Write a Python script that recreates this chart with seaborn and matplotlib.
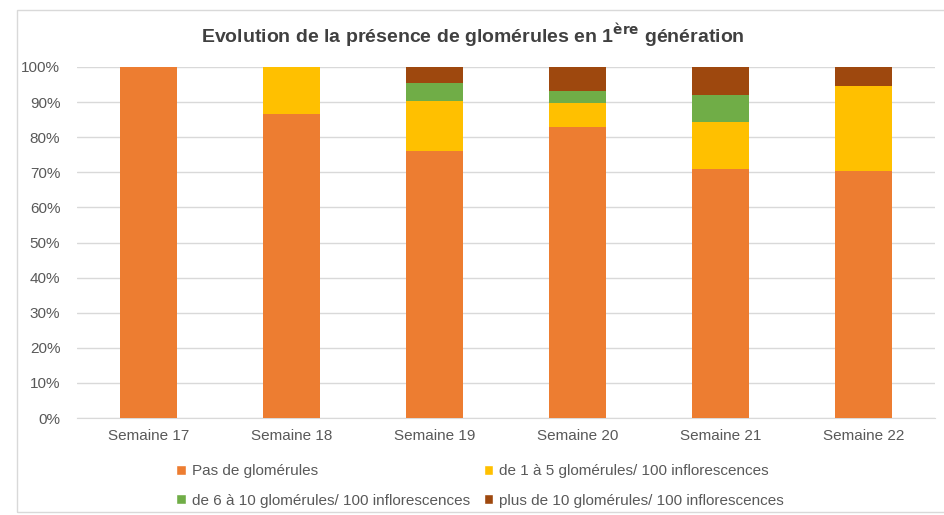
import numpy as np
import pandas as pd
import matplotlib.pyplot as plt
import seaborn as sns
from matplotlib.patches import Patch, Rectangle

weeks = ['Semaine 17', 'Semaine 18', 'Semaine 19', 'Semaine 20', 'Semaine 21', 'Semaine 22']
pas_de = [1.000, 0.866, 0.762, 0.829, 0.709, 0.703]
de_1_5 = [0.000, 0.134, 0.142, 0.068, 0.134, 0.243]
de_6_10 = [0.000, 0.000, 0.049, 0.035, 0.077, 0.000]
plus_10 = [0.000, 0.000, 0.047, 0.068, 0.080, 0.054]

series_names = ['Pas de glomérules',
                'de 1 à 5 glomérules/ 100 inflorescences',
                'de 6 à 10 glomérules/ 100 inflorescences',
                'plus de 10 glomérules/ 100 inflorescences']
colors = ['#ED7D31', '#FFC000', '#70AD47', '#9E480E']

sns.set_style('white')
plt.rcParams['font.family'] = ['Liberation Sans', 'DejaVu Sans']

fig = plt.figure(figsize=(9.45, 5.15), dpi=100)
ax = fig.add_axes([77 / 945, 1 - 418 / 515, 858 / 945, 351 / 515])

df = pd.DataFrame({'week': weeks, 'a': pas_de, 'b': de_1_5, 'c': de_6_10, 'd': plus_10})
bottom = np.zeros(len(weeks))
for col, color in zip(['a', 'b', 'c', 'd'], colors):
    sns.barplot(data=df, x='week', y=col, color=color, bottom=bottom, width=0.4,
                ax=ax, saturation=1, linewidth=0, zorder=3)
    bottom = bottom + df[col].values

ax.set_ylim(0, 1)
ax.set_xlim(-0.5, 5.5)
ax.set_yticks(np.arange(0, 1.01, 0.1))
ax.set_yticklabels([f'{int(round(v * 100))}%' for v in np.arange(0, 1.01, 0.1)])
ax.yaxis.grid(True, color='#D9D9D9', linewidth=1, zorder=0)
ax.set_axisbelow(True)
ax.set_xlabel('')
ax.set_ylabel('')
for s in ['top', 'right', 'left']:
    ax.spines[s].set_visible(False)
ax.spines['bottom'].set_color('#D9D9D9')
ax.tick_params(axis='both', length=0, labelsize=11, colors='#595959', pad=8)
ax.tick_params(axis='y', pad=12)

fig.text(0.5, 1 - 35 / 515,
         r'Evolution de la présence de glomérules en 1$^{\mathbf{ère}}$ génération',
         ha='center', va='center', fontsize=14, fontweight='bold', color='#404040')

order = [0, 2, 1, 3]
handles = [Patch(facecolor=colors[i], label=series_names[i]) for i in order]
fig.legend(handles=handles, loc='center', bbox_to_anchor=(480 / 945, 1 - 486 / 515), ncol=2,
           frameon=False, fontsize=11, labelcolor='#595959', handlelength=0.6,
           handleheight=0.6, handletextpad=0.4, columnspacing=0.9, labelspacing=1.0)

fig.patches.append(Rectangle((17 / 945, 3 / 515), 940 / 945, 502 / 515, transform=fig.transFigure,
                             fill=False, edgecolor='#D9D9D9', linewidth=1))

fig.savefig('out.png', dpi=100)
